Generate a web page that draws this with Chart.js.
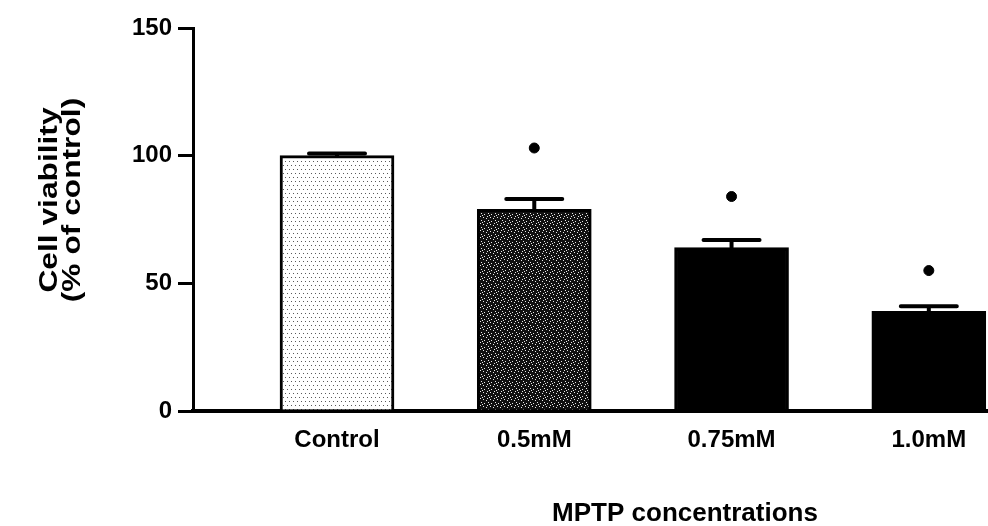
<!DOCTYPE html>
<html>
<head>
<meta charset="utf-8">
<script src="https://cdn.jsdelivr.net/npm/chart.js@4"></script>
<style>
  html, body { margin: 0; padding: 0; background: #fff; }
  #wrap { width: 988px; height: 526px; }
</style>
</head>
<body>
<div id="wrap"><canvas id="cv" width="988" height="526"></canvas></div>
<script>
// values
const categories = ['Control', '0.5mM', '0.75mM', '1.0mM'];
const viability = [100, 79, 64, 39];
const sem = [0.8, 4, 3, 2];
const asteriskLevel = [null, 103, 84, 55];
const yTicks = [0, 50, 100, 150];
const yTitle = ['Cell viability', '(% of control)'];
const xTitle = 'MPTP concentrations';

const fontFamily = '"Liberation Sans", Arial, Helvetica, sans-serif';

// small fill textures for the first two bars
function makePattern(bg, dot, size, dots) {
    const c = document.createElement('canvas');
    c.width = size;
    c.height = size;
    const g = c.getContext('2d');
    g.fillStyle = bg;
    g.fillRect(0, 0, size, size);
    g.fillStyle = dot;
    dots.forEach(function (d) { g.fillRect(d[0], d[1], 1, 1); });
    return g.createPattern(c, 'repeat');
}
const ctx = document.getElementById('cv').getContext('2d');
const lightDots = makePattern('#ffffff', '#5a5a5a', 8, [[1, 1], [5, 1], [3, 5], [7, 5]]);
const darkSpeckle = makePattern('#111111', '#e8e8e8', 7, [[0, 0], [3, 1], [5, 3], [1, 4], [4, 6], [6, 5]]);
const barFills = [lightDots, darkSpeckle, '#000000', '#000000'];

// error bars (mean + SEM) drawn on the library's scales
const errorBars = {
    id: 'errorBars',
    afterDatasetsDraw(chart) {
        const xs = chart.scales.x, ys = chart.scales.y;
        const c = chart.ctx;
        c.save();
        c.strokeStyle = '#000';
        c.lineWidth = 4;
        c.lineCap = 'round';
        for (let i = 0; i < viability.length; i++) {
            const x = xs.getPixelForValue(i);
            const base = ys.getPixelForValue(viability[i]);
            const top = ys.getPixelForValue(viability[i] + sem[i]);
            c.beginPath();
            c.moveTo(x, base);
            c.lineTo(x, top);
            c.moveTo(x - 28, top);
            c.lineTo(x + 28, top);
            c.stroke();
        }
        c.restore();
    }
};

// axis titles, placed like in the figure
const axisTitles = {
    id: 'axisTitles',
    afterDraw(chart) {
        const c = chart.ctx;
        c.save();
        c.fillStyle = '#000';
        c.textAlign = 'center';
        c.textBaseline = 'middle';
        c.font = 'bold 26px ' + fontFamily;
        c.fillText(xTitle, 685, 514);
        const xs = [50, 73];
        for (let k = 0; k < yTitle.length; k++) {
            c.save();
            c.translate(xs[k], 200);
            c.rotate(-Math.PI / 2);
            c.scale(1.22, 1);
            c.fillText(yTitle[k], 0, 0);
            c.restore();
        }
        c.restore();
    }
};

new Chart(ctx, {
    data: {
        datasets: [
            {
                type: 'bar',
                data: viability.map(function (v, i) { return { x: i, y: v }; }),
                backgroundColor: barFills,
                borderColor: '#000',
                borderWidth: 3,
                barThickness: 114,
                order: 2,
            },
            {
                type: 'scatter',
                data: asteriskLevel.map(function (v, i) { return { x: i, y: v }; }).filter(function (p) { return p.y !== null; }),
                pointStyle: 'circle',
                radius: 5,
                borderWidth: 1,
                borderColor: '#000',
                backgroundColor: '#000',
                order: 1,
            },
        ],
    },
    options: {
        responsive: false,
        devicePixelRatio: 1,
        animation: false,
        layout: { autoPadding: false, padding: { left: 0, top: 28, right: 0, bottom: 0 } },
        plugins: {
            legend: { display: false },
            tooltip: { enabled: false },
        },
        scales: {
            x: {
                type: 'linear',
                offset: false,
                min: -0.73,
                max: 3.3,
                afterBuildTicks: function (scale) {
                    scale.ticks = categories.map(function (c, i) { return { value: i }; });
                },
                afterFit: function (scale) { scale.height = 115; },
                grid: { display: false, drawTicks: false },
                border: { display: true, color: '#000', width: 4 },
                ticks: {
                    padding: 15,
                    color: '#000',
                    font: { family: fontFamily, size: 24, weight: 'bold' },
                    maxRotation: 0,
                    autoSkip: false,
                    callback: function (v) { return categories[v]; },
                },
            },
            y: {
                min: 0,
                max: 150,
                afterBuildTicks: function (scale) {
                    scale.ticks = yTicks.map(function (v) { return { value: v }; });
                },
                afterFit: function (scale) { scale.width = 193; },
                grid: {
                    display: true,
                    drawOnChartArea: false,
                    drawTicks: true,
                    tickLength: 15,
                    color: '#000',
                    lineWidth: 3,
                },
                border: { display: true, color: '#000', width: 3 },
                ticks: {
                    padding: 6,
                    color: '#000',
                    font: { family: fontFamily, size: 24, weight: 'bold' },
                },
            },
        },
    },
    plugins: [errorBars, axisTitles],
});
</script>
</body>
</html>
